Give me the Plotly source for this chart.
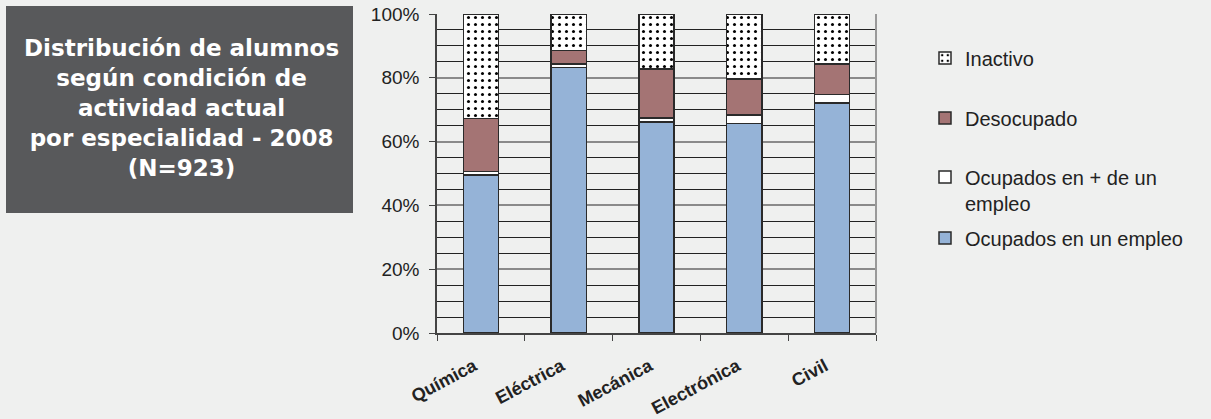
import plotly.graph_objects as go

categories = ["Química", "Eléctrica", "Mecánica", "Electrónica", "Civil"]
ocupados_un = [49.5, 83.2, 66.1, 65.6, 72.1]
ocupados_mas = [1.2, 1.1, 1.3, 2.7, 2.7]
desocupado = [16.6, 4.3, 15.4, 11.3, 9.6]
inactivo = [32.7, 11.4, 17.2, 20.4, 15.6]
series_names = ["Ocupados en un empleo", "Ocupados en + de un<br>empleo", "Desocupado", "Inactivo"]
y_ticks = [0, 20, 40, 60, 80, 100]
y_tick_labels = ["0%", "20%", "40%", "60%", "80%", "100%"]

BG = "#EFF0EF"
LINE = "#2a2a2a"
PLOT_T, PLOT_B = 14, 333

def py2paper(py):
    return (PLOT_B - py) / (PLOT_B - PLOT_T)

fig = go.Figure()
series = [
    (series_names[0], ocupados_un, "#95B3D7", None, "legend4"),
    (series_names[1], ocupados_mas, "#FFFFFF", None, "legend3"),
    (series_names[2], desocupado, "#A47474", None, "legend2"),
    (series_names[3], inactivo, "#FFFFFF", ".", "legend"),
]
for name, vals, color, pat, leg in series:
    marker = dict(color=color, line=dict(color=LINE, width=1.5))
    if pat:
        marker["pattern"] = dict(shape=pat, fgcolor="#000000", bgcolor="#FFFFFF",
                                 size=7, solidity=0.15, fillmode="replace")
    fig.add_trace(go.Bar(x=categories, y=vals, name=name, marker=marker,
                         width=0.4, legend=leg))

legend_x = (925 - 437) / 439
leg_common = dict(x=legend_x, xanchor="left", yanchor="middle", valign="top",
                  font=dict(size=20, color="#222222"), bgcolor="rgba(0,0,0,0)")
fig.update_layout(
    barmode="stack",
    width=1211, height=419,
    margin=dict(l=437, r=335, t=PLOT_T, b=419 - PLOT_B, autoexpand=False),
    paper_bgcolor=BG, plot_bgcolor=BG,
    font=dict(family="Liberation Sans, Arial", color="#222222"),
    legend=dict(y=py2paper(58), **leg_common),
    legend2=dict(y=py2paper(118), **leg_common),
    legend3=dict(y=py2paper(190), **leg_common),
    legend4=dict(y=py2paper(238), **leg_common),
    showlegend=True,
)
fig.update_yaxes(
    range=[0, 100], tickvals=y_ticks, ticktext=y_tick_labels,
    tickfont=dict(size=19, color="#222222"), automargin=False,
    showgrid=True, gridcolor="#8a8a8a", gridwidth=1.5,
    minor=dict(dtick=5, showgrid=True, gridcolor="#222222", gridwidth=1),
    ticks="outside", ticklen=6, tickcolor="#444444", ticklabelstandoff=6,
    showline=True, linecolor="#444444", linewidth=1.5, mirror=False,
    zeroline=False,
)
fig.update_xaxes(
    tickfont=dict(size=18, family="Liberation Sans, Arial", color="#222222", weight="bold"),
    tickangle=-28, ticks="outside", tickson="boundaries", ticklen=6, tickcolor="#444444",
    showline=True, linecolor="#444444", linewidth=1.5, automargin=False,
    ticklabelstandoff=14, ticklabelshift=-7,
)
# right frame line
fig.add_shape(type="line", xref="paper", yref="paper", x0=1, x1=1, y0=0, y1=1,
              line=dict(color="#999999", width=2))

# title box
fig.add_shape(type="rect", xref="paper", yref="paper",
              x0=(6 - 437) / 439, x1=(353 - 437) / 439, y0=py2paper(213), y1=py2paper(6),
              fillcolor="#58595B", line=dict(width=0), layer="above")
fig.add_annotation(
    xref="paper", yref="paper", x=(181 - 437) / 439, y=py2paper(108),
    xanchor="center", yanchor="middle", showarrow=False, align="center",
    text="Distribución de alumnos<br>según condición de<br>actividad actual<br>por especialidad - 2008<br>(N=923)",
    font=dict(family="DejaVu Sans", size=23, color="#FFFFFF", weight="bold"),
)

fig.write_html("out.html")
